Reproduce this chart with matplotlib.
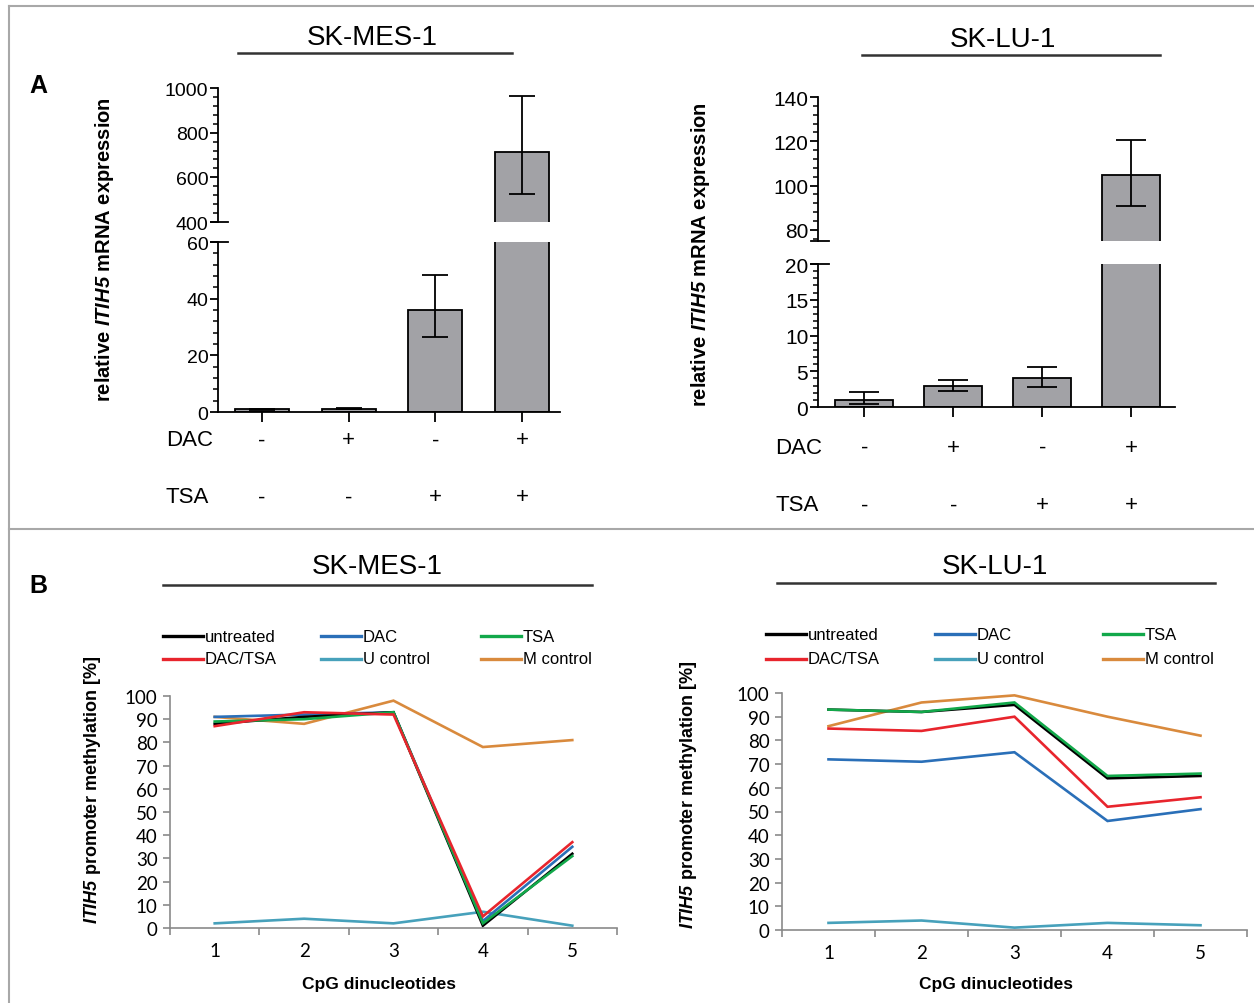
import matplotlib
matplotlib.use("Agg")
import matplotlib.pyplot as plt
import matplotlib.transforms as mtransforms
from matplotlib.lines import Line2D
from matplotlib.ticker import MultipleLocator
import numpy as np

# ---- data -------------------------------------------------------------
conditions = ["untreated", "DAC", "TSA", "DAC/TSA"]
dac_signs = ["-", "+", "-", "+"]
tsa_signs = ["-", "-", "+", "+"]

# relative ITIH5 mRNA expression (mean, lower/upper end of error bar)
mes_expr = [0.9, 1.2, 36.0, 712.0]
mes_err_lo = [0.7, 1.0, 26.5, 525.0]
mes_err_hi = [1.1, 1.5, 48.5, 965.0]

lu_expr = [1.0, 3.0, 4.0, 104.7]
lu_err_lo = [0.4, 2.2, 2.8, 91.0]
lu_err_hi = [2.1, 3.8, 5.6, 120.5]

# ITIH5 promoter methylation [%] per CpG dinucleotide
cpg = [1, 2, 3, 4, 5]
series_names = ["untreated", "DAC", "TSA", "DAC/TSA", "U control", "M control"]
series_colors = ["#000000", "#2a6fb8", "#12a84a", "#e8252d", "#47a1bb", "#d98a3d"]

mes_untreated = [88, 91, 93, 1, 32]
mes_dac = [91, 92, 93, 3, 35]
mes_tsa = [89, 90, 93, 2, 31]
mes_dactsa = [87, 93, 92, 5, 37]
mes_ucontrol = [2, 4, 2, 7, 1]
mes_mcontrol = [91, 88, 98, 78, 81]

lu_untreated = [93, 92, 95, 64, 65]
lu_dac = [72, 71, 75, 46, 51]
lu_tsa = [93, 92, 96, 65, 66]
lu_dactsa = [85, 84, 90, 52, 56]
lu_ucontrol = [3, 4, 1, 3, 2]
lu_mcontrol = [86, 96, 99, 90, 82]

# ---- style ------------------------------------------------------------
plt.rcParams['font.family'] = ['Liberation Sans', 'DejaVu Sans']
plt.rcParams['mathtext.fontset'] = 'custom'
plt.rcParams['mathtext.bfit'] = 'Liberation Sans:bold:italic'
plt.rcParams['mathtext.it'] = 'Liberation Sans:italic'
plt.rcParams['mathtext.rm'] = 'Liberation Sans'

W, H = 1254, 1004
fig = plt.figure(figsize=(W / 100, H / 100), dpi=100)
GRAY = '#8a8a8a'
BAR = '#a2a2a6'
DRAW_ORDER = [5, 4, 1, 0, 2, 3]


def px_rect(x0, y0, x1, y1):
    return [x0 / W, 1 - y1 / H, (x1 - x0) / W, (y1 - y0) / H]


def ftext(x, y, s, **kw):
    fig.text(x / W, 1 - y / H, s, **kw)


def hline(x0, x1, y, **kw):
    fig.add_artist(Line2D([x0 / W, x1 / W], [1 - y / H, 1 - y / H], **kw))


def title(xc, y, x0, x1, yl, s):
    ftext(xc, y, s, ha='center', va='center', fontsize=20)
    hline(x0, x1, yl, color='#333333', lw=1.8)


def bar_panel(up_box, low_box, xlim, width, vals, lo, hi, ylim_up, ylim_low,
              steps_up, steps_low, tsize, capsize, sign_rows, sign_size, label_x):
    x = np.arange(len(vals))
    vals = np.array(vals)
    yerr = [vals - np.array(lo), np.array(hi) - vals]
    ax_up = fig.add_axes(px_rect(*up_box))
    ax_low = fig.add_axes(px_rect(*low_box))
    for ax in (ax_up, ax_low):
        ax.bar(x, vals, width, color=BAR, edgecolor='black', linewidth=1.3,
               yerr=yerr, capsize=capsize,
               error_kw=dict(elinewidth=1.3, capthick=1.3, ecolor='black'))
        ax.set_xlim(*xlim)
        ax.spines['top'].set_visible(False)
        ax.spines['right'].set_visible(False)
        for sp in ax.spines.values():
            sp.set_linewidth(1.3)
        ax.tick_params(axis='y', which='major', length=6, width=1.3, labelsize=tsize, pad=1)
        ax.tick_params(axis='y', which='minor', length=3.5, width=1.1)
    ax_up.set_ylim(*ylim_up)
    ax_up.yaxis.set_major_locator(MultipleLocator(steps_up[0]))
    ax_up.yaxis.set_minor_locator(MultipleLocator(steps_up[1]))
    ax_up.spines['bottom'].set_visible(False)
    ax_up.tick_params(axis='x', bottom=False, labelbottom=False)
    ax_low.set_ylim(*ylim_low)
    ax_low.yaxis.set_major_locator(MultipleLocator(steps_low[0]))
    ax_low.yaxis.set_minor_locator(MultipleLocator(steps_low[1]))
    ax_low.set_xticks(x)
    ax_low.tick_params(axis='x', length=7, width=1.3, labelbottom=False)
    # break marks on the y axis
    ax_up.plot([-0.02, 0.03], [0, 0], transform=ax_up.transAxes, color='k', lw=1.3, clip_on=False)
    ax_low.plot([-0.02, 0.03], [1, 1], transform=ax_low.transAxes, color='k', lw=1.3, clip_on=False)
    # DAC / TSA rows
    trans = mtransforms.blended_transform_factory(ax_low.transData, fig.transFigure)
    for (name, signs, ypx) in sign_rows:
        ftext(label_x, ypx, name, ha='left', va='center', fontsize=sign_size)
        for i, s in enumerate(signs):
            ax_low.text(x[i], 1 - ypx / H, s, transform=trans, ha='center', va='center',
                        fontsize=sign_size)
    return ax_up, ax_low


def meth_panel(box, series, legend_cols, legend_rows, tsize):
    ax = fig.add_axes(px_rect(*box))
    for k in DRAW_ORDER:
        vals, color = series[k]
        ax.plot(cpg, vals, color=color, lw=1.9, solid_joinstyle='miter')
    ax.set_xlim(0.5, 5.5)
    ax.set_ylim(0, 100)
    ax.set_xticks(np.arange(0.5, 6.0, 1.0))
    ax.set_xticklabels([])
    ax.set_xticks(cpg, minor=True)
    ax.set_xticklabels([str(c) for c in cpg], minor=True)
    ax.tick_params(axis='x', which='major', length=5, width=1.2, color=GRAY)
    ax.tick_params(axis='x', which='minor', length=0, pad=10, labelsize=tsize)
    ax.set_yticks(range(0, 101, 10))
    ax.tick_params(axis='y', length=5, width=1.2, color=GRAY, labelsize=tsize, pad=4)
    for lbl in ax.get_yticklabels() + ax.get_xticklabels(minor=True):
        lbl.set_fontfamily(['Lato', 'DejaVu Sans'])
    ax.spines['top'].set_visible(False)
    ax.spines['right'].set_visible(False)
    for k in ('left', 'bottom'):
        ax.spines[k].set_color(GRAY)
        ax.spines[k].set_linewidth(1.2)
    # legend, 3 columns x 2 rows
    for i, (name, (vals, color)) in enumerate(zip(series_names, series)):
        cx = legend_cols[i % 3]
        cy = legend_rows[i // 3]
        hline(cx, cx + 40, cy, color=color, lw=2.4)
        ftext(cx + 42, cy, name, ha='left', va='center', fontsize=12)
    return ax


# ---- frame ------------------------------------------------------------
frame_kw = dict(color='#a8a8a8', lw=1.5)
fig.add_artist(Line2D([9 / W, 9 / W], [0, 1 - 7 / H], **frame_kw))
hline(9, W, 7, **frame_kw)
hline(9, W, 530, **frame_kw)

ftext(38, 86, 'A', ha='center', va='center', fontsize=18, fontweight='bold')
ftext(38, 586, 'B', ha='center', va='center', fontsize=18, fontweight='bold')

# ---- panel A ----------------------------------------------------------
title(372, 38, 238, 512, 54, 'SK-MES-1')
title(1003, 40, 862, 1160, 56, 'SK-LU-1')

bar_panel((218, 89, 560, 223), (218, 243, 560, 413), (-0.51, 3.44), 0.62,
          mes_expr, mes_err_lo, mes_err_hi, (400, 1000), (0, 60),
          (200, 40), (20, 4), 14, 9.5,
          [('DAC', dac_signs, 441), ('TSA', tsa_signs, 498)], 16, 166)
bar_panel((818, 98, 1175, 242), (818, 265, 1175, 408), (-0.52, 3.49), 0.65,
          lu_expr, lu_err_lo, lu_err_hi, (75, 140), (0, 20),
          (20, 4), (5, 1), 15, 11,
          [('DAC', dac_signs, 448), ('TSA', tsa_signs, 506)], 16, 775)

ylab_top = r'relative $\mathbfit{ITIH5}$ mRNA expression'
ftext(105, 250, ylab_top, rotation=90, ha='center', va='center', fontsize=14.5, fontweight='bold')
ftext(700, 255, ylab_top, rotation=90, ha='center', va='center', fontsize=14.5, fontweight='bold')

# ---- panel B ----------------------------------------------------------
title(377, 567, 163, 592, 586, 'SK-MES-1')
title(995, 567, 777, 1215, 584, 'SK-LU-1')

mes_series = list(zip([mes_untreated, mes_dac, mes_tsa, mes_dactsa, mes_ucontrol, mes_mcontrol],
                      series_colors))
lu_series = list(zip([lu_untreated, lu_dac, lu_tsa, lu_dactsa, lu_ucontrol, lu_mcontrol],
                     series_colors))

ax_b1 = meth_panel((170, 697, 617, 929), mes_series, [163, 321, 481], [637, 660], 13.5)
ax_b2 = meth_panel((782, 694, 1247, 931), lu_series, [766, 935, 1103], [635, 660], 13.5)

ylab_b = r'$\mathbfit{ITIH5}$ promoter methylation [%]'
ftext(93, 790, ylab_b, rotation=90, ha='center', va='center', fontsize=13, fontweight='bold')
ftext(688, 795, ylab_b, rotation=90, ha='center', va='center', fontsize=13, fontweight='bold')
ftext(379, 985, 'CpG dinucleotides', ha='center', va='center', fontsize=12.5, fontweight='bold')
ftext(996, 985, 'CpG dinucleotides', ha='center', va='center', fontsize=12.5, fontweight='bold')

fig.savefig('out.png', dpi=100)
